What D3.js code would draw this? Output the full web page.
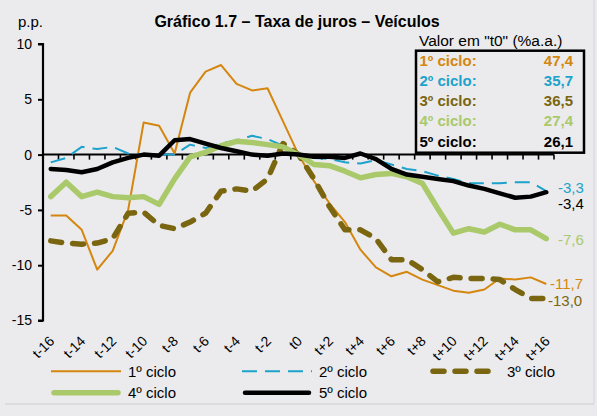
<!DOCTYPE html>
<html><head><meta charset="utf-8">
<script src="https://cdn.jsdelivr.net/npm/d3@7"></script>
<style>
html,body{margin:0;padding:0;background:#ebebed;}
svg{display:block;font-family:"Liberation Sans",Arial,sans-serif;}
</style></head>
<body>
<svg id="chart" width="597" height="416"></svg>
<script>
const categories = ["t-16","t-15","t-14","t-13","t-12","t-11","t-10","t-9","t-8","t-7","t-6","t-5","t-4","t-3","t-2","t-1","t0",
  "t+1","t+2","t+3","t+4","t+5","t+6","t+7","t+8","t+9","t+10","t+11","t+12","t+13","t+14","t+15","t+16"];
const tickLabels = ["t-16","t-14","t-12","t-10","t-8","t-6","t-4","t-2","t0","t+2","t+4","t+6","t+8","t+10","t+12","t+14","t+16"];
const yTicks = [-15,-10,-5,0,5,10];

const ciclo1 = [-5.5,-5.5,-6.8,-10.4,-8.7,-5.0,2.9,2.6,0.1,5.6,7.5,8.1,6.4,5.8,6.0,3.0,0,-2.4,-4.4,-6.1,-8.6,-10.2,-11.0,-10.6,-11.3,-11.8,-12.3,-12.5,-12.2,-11.2,-11.3,-11.1,-11.7];
const ciclo2 = [-0.7,-0.3,0.7,0.5,0.7,0.1,0,0,0,0.9,0.6,1.0,1.3,1.7,1.4,0.8,0,-0.3,-0.4,-0.7,-0.8,-0.5,-0.9,-1.3,-1.5,-1.9,-2.2,-2.6,-2.6,-2.6,-2.5,-2.5,-3.3];
const ciclo3 = [-7.8,-8.0,-8.1,-8.0,-7.6,-5.3,-5.2,-6.4,-6.7,-6.1,-5.3,-3.3,-3.1,-3.3,-2.2,1.0,0,-2.2,-4.7,-6.8,-6.8,-7.6,-9.5,-9.5,-10.4,-11.5,-11.1,-11.2,-11.2,-11.3,-12.2,-13.0,-13.0];
const ciclo4 = [-3.8,-2.5,-3.8,-3.4,-3.8,-3.9,-3.8,-4.5,-2.2,-0.2,0.2,0.8,1.2,1.1,0.9,0.7,0,-0.9,-1.0,-1.5,-2.1,-1.8,-1.7,-2.0,-2.6,-4.9,-7.1,-6.7,-7.0,-6.3,-6.8,-6.8,-7.6];
const ciclo5 = [-1.3,-1.4,-1.6,-1.3,-0.7,-0.3,0.0,-0.1,1.3,1.4,1.0,0.6,0.3,0.0,-0.1,0.1,0,-0.2,-0.2,-0.3,0.1,-0.4,-1.3,-1.8,-2.0,-2.2,-2.4,-2.8,-3.1,-3.5,-3.9,-3.8,-3.4];

const seriesNames = ["1º ciclo","2º ciclo","3º ciclo","4º ciclo","5º ciclo"];
const t0Values = [47.4, 35.7, 36.5, 27.4, 26.1];

const colors = ["#d4860f","#1ca2cb","#7a6610","#a9c96a","#000000"];
const widths = [2,2,5.5,5.5,4.5];
const dashes = [null,"15,8","11,11",null,null];
const caps = ["butt","butt","round","round","round"];

const svg = d3.select("#chart");
const fmt = v => d3.format(".1f")(v).replace(".", ",").replace("\u2212", "-");

const x = d3.scaleBand().domain(categories).range([43, 554]);
const y = d3.scaleLinear().domain([-15, 10]).range([320.5, 44]);
const cx = c => x(c) + x.bandwidth() / 2;

// background frame lines
svg.append("line").attr("x1",5).attr("x2",594).attr("y1",404).attr("y2",404)
  .attr("stroke","#d6d6d9").attr("stroke-width",1.5);
svg.append("line").attr("x1",594).attr("x2",594).attr("y1",0).attr("y2",404)
  .attr("stroke","#dcdcdf").attr("stroke-width",1.5);

// Title
svg.append("text").attr("x",297).attr("y",27).attr("text-anchor","middle")
  .attr("font-size",16).attr("font-weight","bold").text("Gráfico 1.7 – Taxa de juros – Veículos");
svg.append("text").attr("x",18).attr("y",27).attr("font-size",15).text("p.p.");

// Y axis
const yAxis = svg.append("g").attr("transform","translate(43,0)")
  .call(d3.axisLeft(y).tickValues(yTicks).tickSize(5).tickPadding(6).tickFormat(d => String(d)));
yAxis.select(".domain").attr("stroke","#000").attr("stroke-width",2.2).attr("d", `M-5,${y(10)}H0V${y(-15)}H-5`);
yAxis.selectAll(".tick line").attr("stroke","#000").attr("stroke-width",2);
yAxis.selectAll(".tick text").attr("font-size",14).attr("fill","#000")
  .attr("font-family","Liberation Sans, Arial, sans-serif");

// X axis at zero
const xg = svg.append("g");
xg.append("line").attr("x1",43).attr("x2",554).attr("y1",y(0)).attr("y2",y(0))
  .attr("stroke","#000").attr("stroke-width",2);
const boundaries = categories.map(c => x(c)).concat([x(categories[categories.length-1]) + x.bandwidth()]);
xg.selectAll("line.tk").data(boundaries.slice(1)).join("line").attr("class","tk")
  .attr("x1",d=>d).attr("x2",d=>d).attr("y1",y(0)).attr("y2",y(0)+5)
  .attr("stroke","#000").attr("stroke-width",1.6);

// X tick labels (rotated, below plot)
svg.append("g").selectAll("text").data(tickLabels).join("text")
  .attr("transform", d => `translate(${cx(d)+4.5},342) rotate(-45)`)
  .attr("text-anchor","end").attr("font-size",14).text(d => d);

// Lines
const allSeries = [ciclo1, ciclo2, ciclo3, ciclo4, ciclo5];
const line = d3.line().x((d,i) => cx(categories[i])).y(d => y(d));
allSeries.forEach((s, k) => {
  const p = svg.append("path").datum(s).attr("d", line).attr("fill","none")
    .attr("stroke", colors[k]).attr("stroke-width", widths[k])
    .attr("stroke-linejoin","round").attr("stroke-linecap", caps[k]);
  if (dashes[k]) p.attr("stroke-dasharray", dashes[k]);
});

// End labels
const endOffsets = [-0.5, -3, 2, 1, 12];
const endX = [550, 558, 548, 558, 558];
allSeries.forEach((s, k) => {
  const v = s[s.length-1];
  svg.append("text").attr("x", endX[k]).attr("y", y(v) + endOffsets[k]).attr("dy","0.35em")
    .attr("font-size",15).attr("fill", colors[k]).text(fmt(v));
});

// t0 table
svg.append("text").attr("x",419).attr("y",45.5).attr("font-size",15.5).text('Valor em "t0" (%a.a.)');
svg.append("rect").attr("x",416).attr("y",50.7).attr("width",168).attr("height",102)
  .attr("fill","#ebebed").attr("stroke","#000").attr("stroke-width",2.5);
seriesNames.forEach((n, k) => {
  const by = 65.7 + 20.25 * k;
  svg.append("text").attr("x",419.5).attr("y",by).attr("font-size",15).attr("font-weight","bold")
    .attr("fill", colors[k]).text(n + ":");
  svg.append("text").attr("x",573).attr("y",by).attr("text-anchor","end").attr("font-size",15)
    .attr("font-weight","bold").attr("fill", colors[k]).text(fmt(t0Values[k]));
});

// Legend
const legendPos = [[51,371.3],[242,371.3],[430,371.3],[51,392.7],[242,392.7]];
seriesNames.forEach((n, k) => {
  const [lx, ly] = legendPos[k];
  const ln = svg.append("line").attr("x1", lx + (caps[k]==="round" ? 3 : 0)).attr("x2", lx + 70 - (caps[k]==="round" ? 3 : 0))
    .attr("y1", ly).attr("y2", ly).attr("stroke", colors[k]).attr("stroke-width", widths[k])
    .attr("stroke-linecap", caps[k]);
  if (dashes[k]) ln.attr("stroke-dasharray", dashes[k]);
  svg.append("text").attr("x", lx + 77).attr("y", ly + 5.5).attr("font-size",15).text(n);
});
</script>
</body></html>
